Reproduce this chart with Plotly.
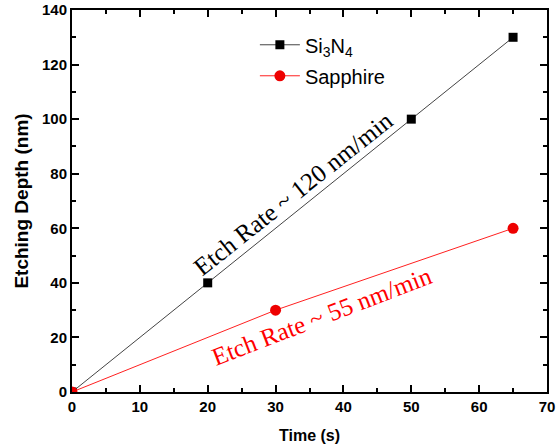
import plotly.graph_objects as go

# Etch depth vs. time
si3n4_time = [0, 20, 50, 65]
si3n4_depth = [0, 40, 100, 130]
sapphire_time = [0, 30, 65]
sapphire_depth = [0, 30, 60]

x_ticks = [0, 10, 20, 30, 40, 50, 60, 70]
y_ticks = [0, 20, 40, 60, 80, 100, 120, 140]

fig = go.Figure()
fig.add_trace(go.Scatter(
    x=si3n4_time, y=si3n4_depth, mode="lines+markers",
    name="Si<sub>3</sub>N<sub>4</sub>", legendgroup="a",
    line=dict(color="#444444", width=1),
    marker=dict(symbol="square", size=9, color="black"),
))
fig.add_trace(go.Scatter(
    x=sapphire_time, y=sapphire_depth, mode="lines+markers",
    name="Sapphire", legendgroup="b",
    line=dict(color="#ff2020", width=1),
    marker=dict(symbol="circle", size=11, color="#ee0000"),
))

axis_common = dict(
    showline=True, linecolor="black", linewidth=2, mirror="ticks",
    ticks="inside", ticklen=7, tickwidth=1.5, tickcolor="black",
    showgrid=False, zeroline=False, automargin=False,
    tickfont=dict(family="Arial", size=15, color="black", weight="bold"),
    minor=dict(ticks="inside", ticklen=4, tickwidth=1.5, tickcolor="black"),
)

fig.update_xaxes(range=[0, 70], tickvals=x_ticks, minor_dtick=5,
                 title=dict(text="Time (s)", standoff=16,
                            font=dict(family="Arial", size=16, color="black", weight="bold")),
                 **axis_common)
fig.update_yaxes(range=[0, 140], tickvals=y_ticks, minor_dtick=10,
                 title=dict(text="Etching Depth (nm)", standoff=8,
                            font=dict(family="Arial", size=19, color="black", weight="bold")),
                 **axis_common)

fig.add_annotation(x=32.6, y=72.9, xref="x", yref="y", showarrow=False,
                   text="Etch Rate ~ 120 nm/min", textangle=-38.5,
                   font=dict(family="Liberation Serif", size=25, color="black"))
fig.add_annotation(x=36.7, y=27.8, xref="x", yref="y", showarrow=False,
                   text="Etch Rate ~ 55 nm/min", textangle=-21,
                   font=dict(family="Liberation Serif", size=25, color="#ff0000"))

fig.update_layout(
    width=559, height=448,
    margin=dict(l=72, r=12, t=10, b=56),
    plot_bgcolor="white", paper_bgcolor="white",
    showlegend=True,
    legend=dict(x=0.385, y=0.96, xanchor="left", yanchor="top",
                bgcolor="rgba(0,0,0,0)", itemwidth=40,
                traceorder="grouped", tracegroupgap=2,
                font=dict(family="Arial", size=20, color="black")),
)

fig.write_html("out.html")
